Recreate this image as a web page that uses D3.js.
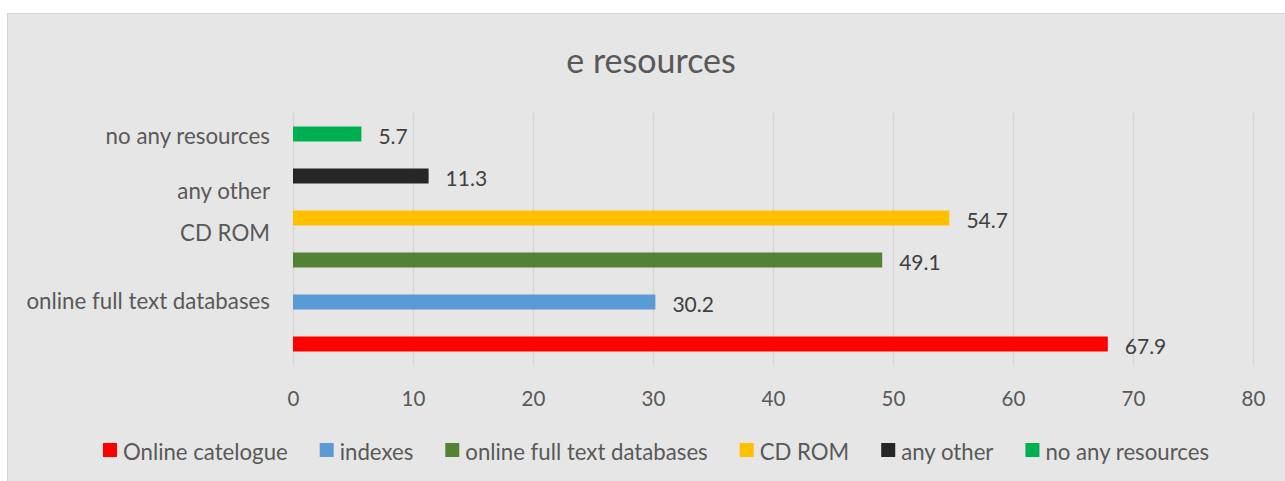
<!DOCTYPE html>
<html><head><meta charset="utf-8">
<script src="https://cdn.jsdelivr.net/npm/d3@7"></script>
<style>
html,body{margin:0;padding:0;background:#fff;}
svg{display:block;}
text{font-family:Lato, "Noto Sans", sans-serif;}
</style></head>
<body>
<svg id="chart" width="1285" height="481"></svg>
<script>
// ---- data ----
const seriesNames = ["Online catelogue","indexes","online full text databases","CD ROM","any other","no any resources"];
const seriesValues = [67.9, 30.2, 49.1, 54.7, 11.3, 5.7];
const seriesColors = ["#FF0000","#5B9BD5","#548235","#FFC000","#262626","#00B050"];
const axisLabels = ["no any resources","any other","CD ROM","online full text databases"];
const xTicks = [0,10,20,30,40,50,60,70,80];
const title = "e resources";

// ---- layout ----
const W = 1285, H = 481;
const svg = d3.select("#chart");
const plot = {left:293, right:1253, top:113, bottom:365};

svg.append("rect").attr("x",7.5).attr("y",13.5).attr("width",W).attr("height",H)
  .attr("fill","#E6E6E6").attr("stroke","#D4D4D4").attr("stroke-width",1);

const x = d3.scaleLinear().domain([0,80]).range([plot.left, plot.right]);
// bars drawn top-to-bottom in reverse series order (Excel bar chart)
const order = d3.range(seriesNames.length).reverse();
const y = d3.scaleBand().domain(order).range([plot.top, plot.bottom]).paddingInner(0.643).paddingOuter(0.3215);

// gridlines via axis
const gx = svg.append("g").attr("transform",`translate(0,${plot.bottom})`)
  .call(d3.axisBottom(x).tickValues(xTicks).tickSize(-(plot.bottom-plot.top)).tickFormat(d3.format("d")));
gx.select(".domain").remove();
gx.selectAll(".tick line").attr("stroke","#D5D5D5").attr("stroke-width",1.3);
gx.selectAll(".tick text").attr("fill","#595959").attr("font-size","20.5px")
  .attr("font-family","Lato").attr("y",41).attr("dy",0);

// bars
svg.append("g").selectAll("rect").data(order).join("rect")
  .attr("x", x(0)).attr("y", i => y(i)).attr("height", y.bandwidth())
  .attr("width", i => x(seriesValues[i]) - x(0)).attr("fill", i => seriesColors[i]);

// data labels
svg.append("g").selectAll("text").data(order).join("text")
  .attr("x", i => x(seriesValues[i]) + 17)
  .attr("y", i => y(i) + y.bandwidth()/2 + 10)
  .attr("fill","#404040").attr("font-size","21px")
  .text(i => d3.format(".1f")(seriesValues[i]));

// category labels (Excel placed them irregularly); slot positions in band units
const step = y.step();
const labelSlots = [0.74, 2.05, 3.05, 4.67];
svg.append("g").selectAll("text").data(axisLabels).join("text")
  .attr("x", 270).attr("text-anchor","end")
  .attr("y", (d,i) => plot.top + labelSlots[i]*step)
  .attr("fill","#595959").attr("font-size","22.3px")
  .text(d => d);

// title
svg.append("text").attr("x",651).attr("y",73).attr("text-anchor","middle")
  .attr("fill","#595959").attr("font-size","34px").text(title);

// legend
const lg = svg.append("g");
const items = lg.selectAll("g").data(seriesNames).join("g");
items.append("rect").attr("width",14).attr("height",14).attr("y",443)
  .attr("fill",(d,i)=>seriesColors[i]);
items.append("text").attr("x",20).attr("y",460).attr("fill","#595959")
  .attr("font-size","22.2px").text(d=>d);
let cx = 0; const widths = [];
items.each(function(){ const w = 20 + d3.select(this).select("text").node().getComputedTextLength(); widths.push(w); });
const total = d3.sum(widths) + 32*(widths.length-1);
cx = 656 - total/2;
items.attr("transform",(d,i)=>{ const t = `translate(${cx},0)`; cx += widths[i] + 32; return t; });
</script>
</body></html>
